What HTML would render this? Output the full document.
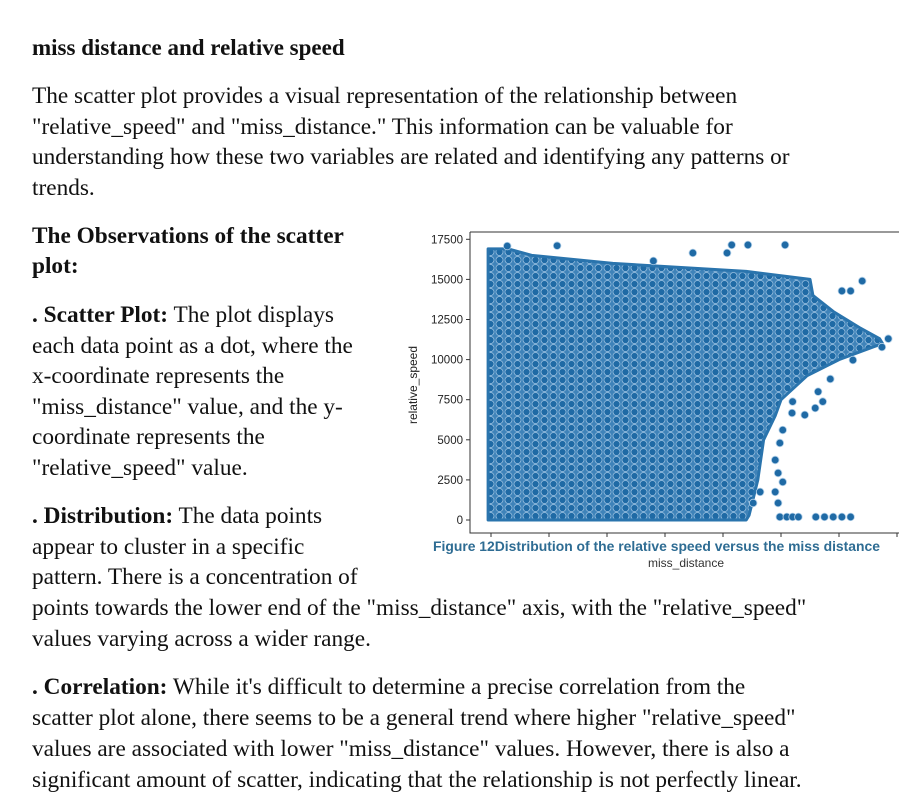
<!DOCTYPE html>
<html><head><meta charset="utf-8">
<style>
body{margin:0;width:901px;height:802px;background:#fff;position:relative;overflow:hidden;font-family:"Liberation Serif",serif;color:#111}
.l{position:absolute;left:32px;font-size:23.3px;white-space:nowrap;line-height:26px}
b{font-weight:bold}
</style></head><body>
<div class="l" style="top:35px;font-size:23px"><b>miss distance and relative speed</b></div>
<div>
<div class="l" style="top:83px">The scatter plot provides a visual representation of the relationship between</div>
<div class="l" style="top:114px">"relative_speed" and "miss_distance." This information can be valuable for</div>
<div class="l" style="top:144px">understanding how these two variables are related and identifying any patterns or</div>
<div class="l" style="top:175px">trends.</div>
</div>
<div>
<div class="l" style="top:223px"><b>The Observations of the scatter</b></div>
<div class="l" style="top:253px"><b>plot:</b></div>
</div>
<div>
<div class="l" style="top:302px"><b>. Scatter Plot:</b> The plot displays</div>
<div class="l" style="top:333px">each data point as a dot, where the</div>
<div class="l" style="top:363px">x-coordinate represents the</div>
<div class="l" style="top:394px">"miss_distance" value, and the y-</div>
<div class="l" style="top:424px">coordinate represents the</div>
<div class="l" style="top:455px">"relative_speed" value.</div>
</div>
<div>
<div class="l" style="top:503px"><b>. Distribution:</b> The data points</div>
<div class="l" style="top:534px">appear to cluster in a specific</div>
<div class="l" style="top:564px">pattern. There is a concentration of</div>
<div class="l" style="top:595px">points towards the lower end of the "miss_distance" axis, with the "relative_speed"</div>
<div class="l" style="top:626px">values varying across a wider range.</div>
</div>
<div>
<div class="l" style="top:674px"><b>. Correlation:</b> While it's difficult to determine a precise correlation from the</div>
<div class="l" style="top:705px">scatter plot alone, there seems to be a general trend where higher "relative_speed"</div>
<div class="l" style="top:736px">values are associated with lower "miss_distance" values. However, there is also a</div>
<div class="l" style="top:767px">significant amount of scatter, indicating that the relationship is not perfectly linear.</div>
</div>

<svg id="chart" width="901" height="802" style="position:absolute;left:0;top:0" xmlns="http://www.w3.org/2000/svg">
<defs>
<pattern id="dots" width="9" height="8" patternUnits="userSpaceOnUse">
<rect width="9" height="8" fill="#3f83b9"/>
<circle cx="4.5" cy="4" r="3.5" fill="#1f6aa5" stroke="#9fc4e3" stroke-width="0.7"/>
</pattern>
</defs>
<g id="plot"></g>
</svg>
<script>
const yTicks=[0,2500,5000,7500,10000,12500,15000,17500];
const xTicks=[0,1,2,3,4,5,6,7];
// envelope: speed band and maximum miss distance of dense cloud
const envSpeed=[0,300,2500,5000,6500,7500,9000,10000,10800,11000,11300,12000,13000,14000,15000,15500,16000,16500,16900];
const envMaxX=[4.4,4.45,4.6,4.7,4.9,5.0,5.45,6.0,6.6,6.75,6.7,6.35,5.9,5.55,5.5,4.4,2.1,0.7,0.3];
const outX=[0.28,1.14,4.15,4.43,5.07,4.07,3.48,2.8,6.4,6.05,6.2,6.24,5.85,5.64,5.72,5.41,5.59,5.2,5.19,5.03,4.98,4.9,4.95,5.03,4.9,4.95,4.52,4.64,4.98,5.1,5.2,5.3,5.6,5.75,5.9,6.05,6.2,6.74,6.85];
const outY=[17080,17100,17150,17150,17150,16650,16650,16150,14900,14280,14280,9970,8790,8000,7380,6550,6980,7380,6670,5610,4800,3740,2930,2370,1750,1060,1060,1750,190,190,190,190,190,190,190,190,190,10780,11300];
const X=v=>491+v*58;
const Y=v=>520-v/2500*40.1;
const NS="http://www.w3.org/2000/svg";
const g=document.getElementById('plot');
function el(t,a){const e=document.createElementNS(NS,t);for(const k in a)e.setAttribute(k,a[k]);g.appendChild(e);return e;}
const frame=el('path',{d:'M470 232 H899 M470 232 V533 H899',fill:'none',stroke:'#333','stroke-width':1});


yTicks.forEach(t=>{
 const tk=el('line',{x1:466,x2:470,y1:Y(t),y2:Y(t),stroke:'#333'});
 
 
 const tx=el('text',{x:463,y:Y(t)+4,'text-anchor':'end','font-size':'11.5','font-family':'Liberation Sans, sans-serif',fill:'#222'});
 tx.textContent=t;
 
 
});
xTicks.forEach(t=>{
 const tk=el('line',{x1:X(t),x2:X(t),y1:533,y2:537,stroke:'#333'});
 
 
});
let d='M'+X(-0.05)+' '+Y(envSpeed[0]);
envSpeed.forEach((s,i)=>{d+=' L'+X(envMaxX[i])+' '+Y(s);});
d+=' L'+X(-0.05)+' '+Y(envSpeed[envSpeed.length-1])+' Z';
const cloud=el('path',{d:d,fill:'url(#dots)',stroke:'#2a74ad','stroke-width':3,'stroke-linejoin':'round'});


outX.forEach((v,i)=>{
 const c=el('circle',{cx:X(v),cy:Y(outY[i]),r:3.8,fill:'#1f6aa5',stroke:'#b5d2ea','stroke-width':0.8});
 
 
});
const yl=el('text',{x:0,y:0,transform:'translate(417,385) rotate(-90)','text-anchor':'middle','font-size':'12','font-family':'Liberation Sans, sans-serif',fill:'#222'});
yl.textContent='relative_speed';


const xl=el('text',{x:686,y:567,'text-anchor':'middle','font-size':'12','font-family':'Liberation Sans, sans-serif',fill:'#333'});
xl.textContent='miss_distance';


const cap=el('rect',{x:430,y:538,width:468,height:16,fill:'#fff'});


const ct=el('text',{x:433,y:551,'font-size':'13.9','font-weight':'bold','font-family':'Liberation Sans, sans-serif',fill:'#2e6c93'});
ct.textContent='Figure 12Distribution of the relative speed versus the miss distance';


</script>
</body></html>
